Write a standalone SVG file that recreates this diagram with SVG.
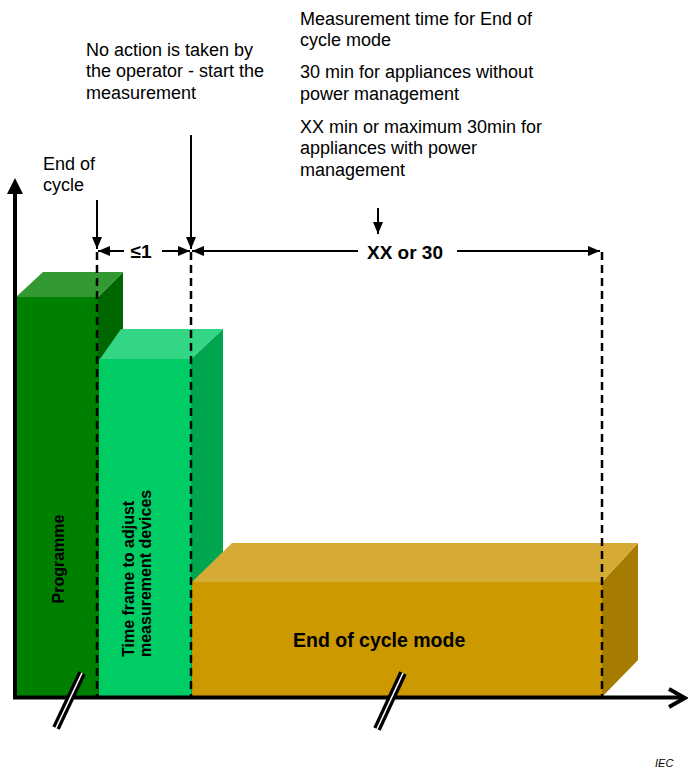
<svg xmlns="http://www.w3.org/2000/svg" width="688" height="772" viewBox="0 0 688 772">
  <defs>
    <style>
      .lbl { font-family: "Liberation Sans", Arial, sans-serif; font-size: 18px; fill: #000; }
      .bold { font-family: "Liberation Sans", Arial, sans-serif; font-weight: bold; fill: #000; }
      .dash { stroke: #000; stroke-width: 2.5; stroke-dasharray: 8 5; fill: none; }
      .arr { stroke: #000; stroke-width: 2; fill: none; marker-end: url(#head); }
      .axis { stroke: #000; stroke-width: 4; fill: none; }
    </style>
    <marker id="head" viewBox="0 0 12 10" refX="12" refY="5" markerWidth="12" markerHeight="10" markerUnits="userSpaceOnUse" orient="auto">
      <path d="M0,0 L12,5 L0,10 Z" fill="#000"/>
    </marker>
  </defs>
  <rect width="688" height="772" fill="#fff"/>

  <!-- Programme block -->
  <g id="programme">
    <polygon points="98,297 123,272 123,672 98,697" fill="#006600"/>
    <polygon points="16,297 43,272 123,272 98,297" fill="#339933"/>
    <rect x="16" y="297" width="82" height="400" fill="#008000"/>
    <text class="bold" font-size="16" transform="translate(63.5,559) rotate(-90)" text-anchor="middle">Programme</text>
  </g>

  <!-- Adjustment time block -->
  <g id="adjust">
    <polygon points="191,359 223,329 223,665 191,697" fill="#00A550"/>
    <polygon points="100,359 121,329 223,329 191,359" fill="#33D685"/>
    <rect x="99" y="359" width="92" height="338" fill="#00CC66"/>
    <text class="bold" font-size="16" transform="translate(134,657) rotate(-90)">Time frame to adjust</text>
    <text class="bold" font-size="16" transform="translate(151,657) rotate(-90)">measurement devices</text>
  </g>

  <!-- End of cycle mode block -->
  <g id="eoc-mode">
    <polygon points="602,582 638,543 638,660 602,697" fill="#A67C00"/>
    <polygon points="192,582 232,543 638,543 602,582" fill="#D6AB35"/>
    <rect x="192" y="582" width="410" height="115" fill="#CC9900"/>
    <text class="bold" font-size="19.5" x="293" y="647">End of cycle mode</text>
  </g>

  <!-- Axes with break marks -->
  <g id="axes">
    <line class="axis" x1="15" y1="190" x2="15" y2="699"/>
    <polygon points="15,178 7,194 23,194" fill="#000"/>
    <line class="axis" x1="13" y1="697.5" x2="684" y2="697.5"/>
    <polyline class="axis" points="669,689 685,698 669,707" stroke-linejoin="miter"/>
    <line x1="56" y1="728" x2="82" y2="673" stroke="#000" stroke-width="8"/>
    <line x1="56" y1="728" x2="82" y2="673" stroke="#fff" stroke-width="1.6"/>
    <line x1="377" y1="729" x2="403" y2="673" stroke="#000" stroke-width="8"/>
    <line x1="377" y1="729" x2="403" y2="673" stroke="#fff" stroke-width="1.6"/>
  </g>

  <!-- Connectors: time markers and dimension lines -->
  <g id="connectors">
    <line class="dash" x1="97" y1="252" x2="97" y2="697"/>
    <line class="dash" x1="191" y1="252" x2="191" y2="697"/>
    <line class="dash" x1="602" y1="252" x2="602" y2="697"/>
    <line class="arr" x1="97" y1="200" x2="97" y2="249"/>
    <line class="arr" x1="191" y1="135" x2="191" y2="249"/>
    <line class="arr" x1="378" y1="208" x2="378" y2="234"/>
    <line class="arr" x1="124" y1="251" x2="98" y2="251"/>
    <line class="arr" x1="162" y1="251" x2="190" y2="251"/>
    <line class="arr" x1="358" y1="251" x2="192" y2="251"/>
    <line class="arr" x1="457" y1="251" x2="600" y2="251"/>
  </g>

  <!-- Labels -->
  <g id="labels">
    <text class="bold" font-size="19" x="141" y="258" text-anchor="middle">≤1</text>
    <text class="bold" font-size="19" x="405" y="259" text-anchor="middle">XX or 30</text>
    <text class="lbl" x="43" y="170">End of</text>
    <text class="lbl" x="43" y="191">cycle</text>
    <text class="lbl" x="86" y="55.5">No action is taken by</text>
    <text class="lbl" x="86" y="77">the operator - start the</text>
    <text class="lbl" x="86" y="98.5">measurement</text>
    <text class="lbl" x="300" y="24.5">Measurement time for End of</text>
    <text class="lbl" x="300" y="45.5">cycle mode</text>
    <text class="lbl" x="300" y="78">30 min for appliances without</text>
    <text class="lbl" x="300" y="99.5">power management</text>
    <text class="lbl" x="300" y="133">XX min or maximum 30min for</text>
    <text class="lbl" x="300" y="154">appliances with power</text>
    <text class="lbl" x="300" y="175.5">management</text>
    <text x="655" y="767" font-family="Liberation Sans, Arial, sans-serif" font-size="11" font-style="italic" fill="#000">IEC</text>
  </g>
</svg>
